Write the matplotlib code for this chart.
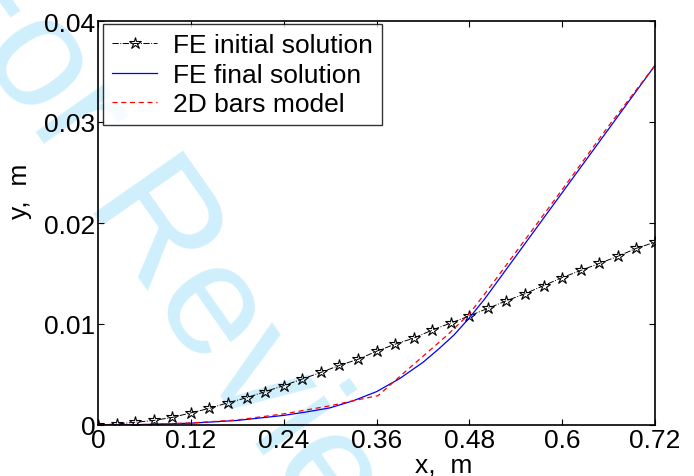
import numpy as np
import matplotlib
matplotlib.use("Agg")
import matplotlib.pyplot as plt

plt.rcParams['font.family'] = ['Liberation Sans', 'DejaVu Sans']

# FE initial solution (star markers)
x_init = [0.0, 0.024, 0.048, 0.072, 0.096, 0.12, 0.144, 0.168, 0.192, 0.216, 0.24,
          0.264, 0.288, 0.312, 0.336, 0.36, 0.384, 0.408, 0.432, 0.456, 0.48,
          0.504, 0.528, 0.552, 0.576, 0.6, 0.624, 0.648, 0.672, 0.696, 0.72]
y_init = [0.0, 0.0001, 0.00027, 0.00045, 0.00075, 0.0012, 0.00165, 0.0022, 0.0027, 0.0033, 0.0039,
          0.00455, 0.0052, 0.0059, 0.0065, 0.0073, 0.0080, 0.0086, 0.0094, 0.0101, 0.0108,
          0.01155, 0.0123, 0.0130, 0.0138, 0.0146, 0.0153, 0.0160, 0.0167, 0.0175, 0.0181]

# FE final solution
x_final = [0.0, 0.06, 0.12, 0.18, 0.24, 0.27, 0.30, 0.33, 0.36, 0.39, 0.42, 0.44, 0.46, 0.48,
           0.50, 0.52, 0.54, 0.60, 0.66, 0.72]
y_final = [0.0, 0.00005, 0.00018, 0.00045, 0.00095, 0.0013, 0.0017, 0.0024, 0.0033, 0.0046, 0.0062, 0.0075, 0.0089, 0.0106,
           0.0125, 0.0146, 0.0167, 0.0230, 0.0293, 0.0356]

# 2D bars model
x_bars = [0.0, 0.06, 0.12, 0.18, 0.24, 0.30, 0.33, 0.355, 0.362, 0.39, 0.42, 0.45, 0.48, 0.51,
          0.54, 0.60, 0.66, 0.72]
y_bars = [0.0, 0.00005, 0.0002, 0.0005, 0.0011, 0.0019, 0.0024, 0.0028, 0.0029, 0.0048, 0.0068, 0.0088, 0.0110, 0.0140,
          0.0171, 0.0233, 0.0296, 0.0356]

xticks = [0, 0.12, 0.24, 0.36, 0.48, 0.6, 0.72]
xticklabels = ['0', '0.12', '0.24', '0.36', '0.48', '0.6', '0.72']
yticks = [0, 0.01, 0.02, 0.03, 0.04]
yticklabels = ['0', '0.01', '0.02', '0.03', '0.04']

fig = plt.figure(figsize=(6.94, 4.77), dpi=100)
fig.patch.set_facecolor('white')

# watermark
fig.text(0.27, 0.42, 'For Review', fontsize=115, color='#d0effc', rotation=-55,
         ha='center', va='center', zorder=0, family=['Liberation Sans', 'DejaVu Sans'])

ax = fig.add_axes([98/694, 1 - 426/477, (655-98)/694, (426-22)/477])
ax.set_zorder(1)
ax.patch.set_alpha(0)

fs = 19
ax.plot(x_init, y_init, color='black', linestyle='-.', linewidth=0.7, marker='*',
        markersize=9, markerfacecolor='none', markeredgecolor='black', markeredgewidth=0.8,
        label='FE initial solution')
ax.plot(x_final, y_final, color='blue', linestyle='-', linewidth=0.9, label='FE final solution')
ax.plot(x_bars, y_bars, color='red', linestyle=(0, (4, 3)), linewidth=0.9, label='2D bars model')

ax.set_xlim(0, 0.72)
ax.set_ylim(0, 0.04)
ax.set_xticks(xticks)
ax.set_xticklabels(xticklabels, fontsize=fs)
ax.set_yticks(yticks)
ax.set_yticklabels(yticklabels, fontsize=fs)
ax.tick_params(direction='in', length=4, width=0.8, top=True, right=True, pad=2)
for s in ax.spines.values():
    s.set_linewidth(1.2)

ax.set_xlabel('x,  m', fontsize=fs)
ax.set_ylabel('y,  m', fontsize=fs)
ax.xaxis.set_label_coords(0.62, -0.068)
ax.yaxis.set_label_coords(-0.118, 0.58)

leg = ax.legend(loc='upper left', bbox_to_anchor=(0.009, 0.992), fontsize=fs, frameon=True,
                fancybox=False, edgecolor='black', handlelength=1.7, handletextpad=0.6,
                labelspacing=0.2, borderpad=0.35, borderaxespad=0)
leg.get_frame().set_linewidth(1.0)

fig.savefig('out.png', dpi=100)
